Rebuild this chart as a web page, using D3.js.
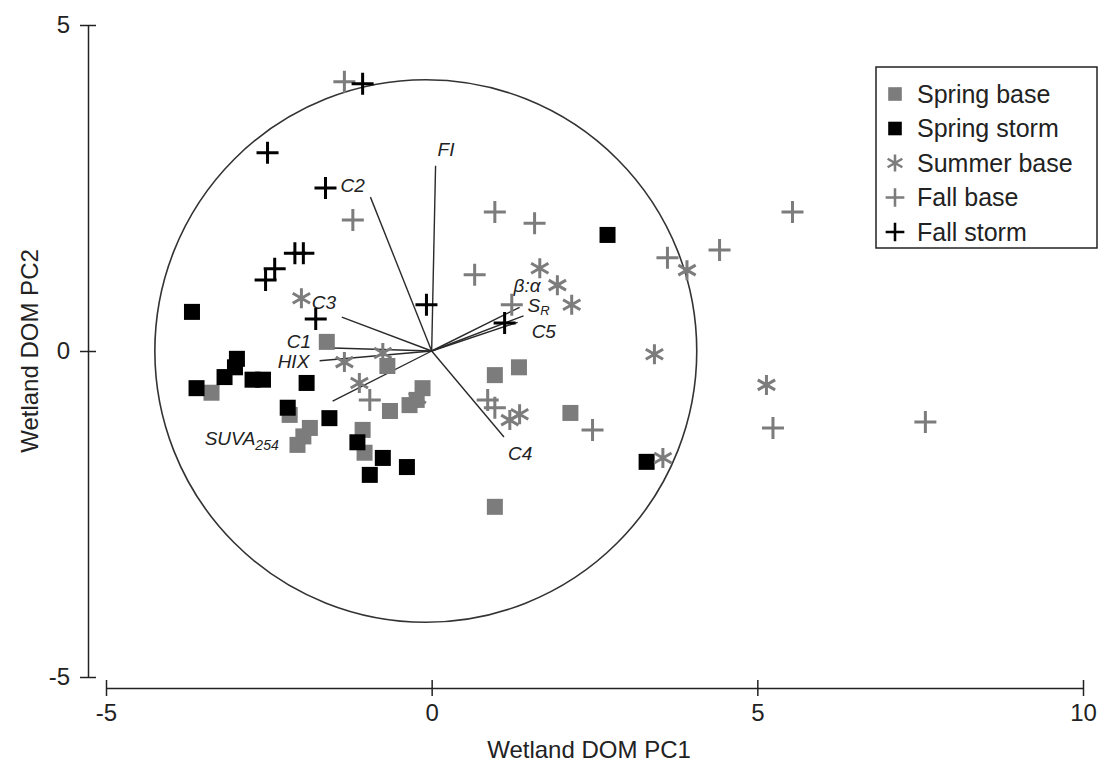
<!DOCTYPE html>
<html>
<head>
<meta charset="utf-8">
<script src="https://cdn.jsdelivr.net/npm/d3@7"></script>
<style>
    body { margin: 0; background: #fff; }
    text { font-family: "Liberation Sans", Arial, sans-serif; fill: #222; }
</style>
</head>
<body>
<div id="chart"></div>
<script>

// ---- data ----
let springBase = [
    [-1.61, 0.14], [-3.38, -0.64], [-0.68, -0.23], [-0.14, -0.57], [-0.23, -0.75],
    [-0.34, -0.83], [-0.64, -0.92], [-1.06, -1.21], [-1.03, -1.56], [-1.87, -1.18],
    [-1.97, -1.31], [-2.06, -1.44], [-2.18, -0.98], [0.97, -0.37], [1.34, -0.25],
    [2.13, -0.95], [0.97, -2.39]
];
let springStorm = [
    [-3.68, 0.60], [-3.61, -0.57], [-2.99, -0.12], [-3.02, -0.25], [-3.18, -0.40],
    [-2.75, -0.44], [-2.59, -0.44], [-1.92, -0.49], [-2.21, -0.87], [-1.57, -1.03],
    [-1.14, -1.40], [-0.75, -1.64], [-0.95, -1.90], [-0.38, -1.78], [2.70, 1.78],
    [3.30, -1.70]
];
let summerBase = [
    [-2.00, 0.81], [-1.34, -0.17], [-0.75, -0.03], [-1.11, -0.49], [-0.22, -0.72],
    [1.66, 1.27], [1.93, 1.01], [2.15, 0.71], [3.92, 1.24], [3.42, -0.05],
    [5.14, -0.52], [3.55, -1.64], [1.20, -1.06], [1.35, -0.97]
];
let fallBase = [
    [-1.34, 4.13], [-1.21, 2.01], [0.97, 2.13], [1.58, 1.96], [0.66, 1.17],
    [1.23, 0.71], [3.62, 1.43], [4.42, 1.55], [5.54, 2.13], [-0.95, -0.75],
    [0.86, -0.75], [0.97, -0.87], [2.47, -1.21], [5.24, -1.18], [7.58, -1.09]
];
let fallStorm = [
    [-1.06, 4.10], [-2.52, 3.04], [-1.63, 2.50], [-2.10, 1.50], [-1.97, 1.50],
    [-2.41, 1.26], [-2.55, 1.09], [-1.78, 0.49], [-0.08, 0.71], [1.12, 0.43]
];

// loading vectors (variable name, PC1, PC2)
let loadingNames = ["FI", "C2", "C3", "C1", "HIX", "SUVA", "C4", "BA", "SR", "C5"];
let loadingPC1 = [0.06, -0.94, -1.38, -1.64, -1.72, -1.52, 1.11, 1.35, 1.41, 1.32];
let loadingPC2 = [2.84, 2.36, 0.52, 0.05, -0.15, -0.77, -1.32, 0.67, 0.54, 0.44];

let seriesNames = ["Spring base", "Spring storm", "Summer base", "Fall base", "Fall storm"];
let xTicks = [-5, 0, 5, 10];
let yTicks = [-5, 0, 5];
let circleCentre = [-0.09, 0];
let circleRadius = 4.16;

// ---- layout ----
let width = 1108, height = 770;

let svg = d3.select("#chart").append("svg")
    .attr("width", width)
    .attr("height", height);

let x = d3.scaleLinear().domain([-5, 10]).range([106, 1083]);
let y = d3.scaleLinear().domain([-5, 5]).range([677, 25]);

let grey = "#7c7c7c";
let styles = [
    {shape: "square", color: grey},
    {shape: "square", color: "#000"},
    {shape: "star", color: grey},
    {shape: "plus", color: grey},
    {shape: "plus", color: "#000"}
];
let series = [springBase, springStorm, summerBase, fallBase, fallStorm];

// axes (plain hyphen for negatives, like the original)
let fmt = function(d) { return String(d); };
let xAxis = d3.axisBottom(x).tickValues(xTicks).tickFormat(fmt).tickSizeInner(8).tickSizeOuter(0).tickPadding(6);
let yAxis = d3.axisLeft(y).tickValues(yTicks).tickFormat(fmt).tickSizeInner(8).tickSizeOuter(0).tickPadding(10);

let xg = svg.append("g").attr("transform", "translate(0,688)").call(xAxis);
let yg = svg.append("g").attr("transform", "translate(88,0)").call(yAxis);

[xg, yg].forEach(function(g) {
    g.select(".domain").attr("stroke", "#222").attr("stroke-width", 1.5);
    g.selectAll(".tick line").attr("stroke", "#222").attr("stroke-width", 1.5);
    g.selectAll(".tick text")
        .attr("fill", "#222")
        .style("font-size", "24px")
        .style("font-family", "'Liberation Sans', Arial, sans-serif");
});
// ticks cross the axis line on both sides
xg.selectAll(".tick line").attr("y1", -8).attr("y2", 8);
yg.selectAll(".tick line").attr("x1", -8).attr("x2", 8);
xg.selectAll(".tick text").attr("y", 16);

svg.append("text")
    .attr("x", 589).attr("y", 758)
    .attr("text-anchor", "middle")
    .style("font-size", "24px")
    .text("Wetland DOM PC1");

svg.append("text")
    .attr("transform", "translate(38,351) rotate(-90)")
    .attr("text-anchor", "middle")
    .style("font-size", "24px")
    .text("Wetland DOM PC2");

// correlation circle
svg.append("ellipse")
    .attr("cx", x(circleCentre[0]))
    .attr("cy", y(circleCentre[1]))
    .attr("rx", x(circleRadius) - x(0))
    .attr("ry", y(0) - y(circleRadius))
    .attr("fill", "none")
    .attr("stroke", "#333")
    .attr("stroke-width", 1.6);

// loading vectors
let loadings = loadingNames.map(function(n, i) {
    return {name: n, pc1: loadingPC1[i], pc2: loadingPC2[i]};
});

svg.append("g").selectAll("line")
    .data(loadings)
    .enter().append("line")
    .attr("x1", x(0)).attr("y1", y(0))
    .attr("x2", function(d) { return x(d.pc1); })
    .attr("y2", function(d) { return y(d.pc2); })
    .attr("stroke", "#2a2a2a")
    .attr("stroke-width", 1.4);

// label offsets from the vector tip, in px
let labelOffset = {
    FI: [2, -16], C2: [-30, -12], C3: [-30, -15], C1: [-38, -6], HIX: [-42, 1],
    SUVA: [-128, 37], C4: [4, 16], BA: [-6, -22], SR: [4, -10], C5: [14, 9]
};

let labels = svg.append("g").selectAll("text")
    .data(loadings)
    .enter().append("text")
    .attr("x", function(d) { return x(d.pc1) + labelOffset[d.name][0]; })
    .attr("y", function(d) { return y(d.pc2) + labelOffset[d.name][1]; })
    .attr("dy", "0.35em")
    .style("font-size", "19px")
    .style("font-style", "italic")
    .attr("fill", "#333");

labels.each(function(d) {
    let t = d3.select(this);
    if (d.name === "SUVA") {
        t.append("tspan").text("SUVA");
        t.append("tspan").attr("dy", 5).style("font-size", "14px").text("254");
    } else if (d.name === "SR") {
        t.append("tspan").text("S");
        t.append("tspan").attr("dy", 3).style("font-size", "13px").text("R");
    } else if (d.name === "BA") {
        t.text("\u03B2:\u03B1");
    } else {
        t.text(d.name);
    }
});

// marker drawing
function drawMarker(g, shape, color) {
    if (shape === "square") {
        g.append("rect")
            .attr("x", -8).attr("y", -8)
            .attr("width", 16).attr("height", 16)
            .attr("fill", color);
    } else if (shape === "plus") {
        g.append("path")
            .attr("d", "M-11,0H11M0,-11V11")
            .attr("stroke", color)
            .attr("stroke-width", 3)
            .attr("fill", "none");
    } else {
        let r = 10;
        let a = Math.PI / 6;
        let dx = r * Math.cos(a), dy = r * Math.sin(a);
        g.append("path")
            .attr("d", "M0," + (-r) + "V" + r +
                "M" + (-dx) + "," + (-dy) + "L" + dx + "," + dy +
                "M" + (-dx) + "," + dy + "L" + dx + "," + (-dy))
            .attr("stroke", color)
            .attr("stroke-width", 3)
            .attr("fill", "none");
    }
}

// points, drawn in series order
series.forEach(function(data, i) {
    let st = styles[i];
    svg.append("g").selectAll("g")
        .data(data)
        .enter().append("g")
        .attr("transform", function(d) { return "translate(" + x(d[0]) + "," + y(d[1]) + ")"; })
        .each(function() { drawMarker(d3.select(this), st.shape, st.color); });
});

// legend
let legend = svg.append("g").attr("transform", "translate(876,67)");
legend.append("rect")
    .attr("width", 221).attr("height", 181)
    .attr("fill", "#fff")
    .attr("stroke", "#222")
    .attr("stroke-width", 1.5);

seriesNames.forEach(function(name, i) {
    let row = legend.append("g").attr("transform", "translate(0," + (27 + i * 34.5) + ")");
    let m = row.append("g").attr("transform", "translate(19,0) scale(0.85)");
    drawMarker(m, styles[i].shape, styles[i].color);
    row.append("text")
        .attr("x", 41).attr("y", 0)
        .attr("dy", "0.35em")
        .style("font-size", "25px")
        .text(name);
});

</script>
</body>
</html>
